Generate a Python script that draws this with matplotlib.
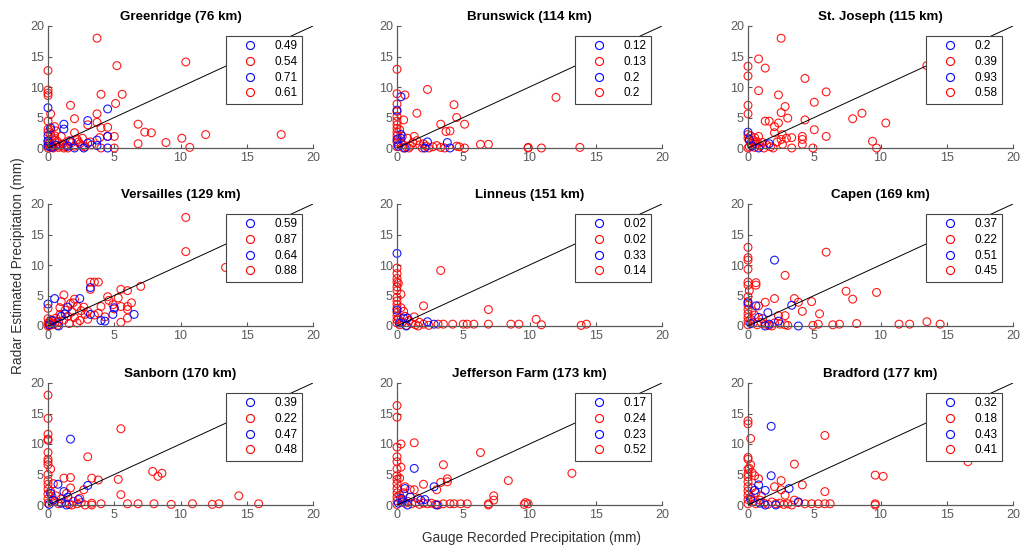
import matplotlib
matplotlib.use("Agg")
import matplotlib.pyplot as plt
from matplotlib.lines import Line2D

plt.rcParams['font.family'] = ['Liberation Sans', 'DejaVu Sans']

# =====================
# Data (gauge mm, radar mm)
# =====================
stations = ["Greenridge (76 km)", "Brunswick (114 km)", "St. Joseph (115 km)",
            "Versailles (129 km)", "Linneus (151 km)", "Capen (169 km)",
            "Sanborn (170 km)", "Jefferson Farm (173 km)", "Bradford (177 km)"]

corr_labels = [
    ["0.49", "0.54", "0.71", "0.61"],
    ["0.12", "0.13", "0.2", "0.2"],
    ["0.2", "0.39", "0.93", "0.58"],
    ["0.59", "0.87", "0.64", "0.88"],
    ["0.02", "0.02", "0.33", "0.14"],
    ["0.37", "0.22", "0.51", "0.45"],
    ["0.39", "0.22", "0.47", "0.48"],
    ["0.17", "0.24", "0.23", "0.52"],
    ["0.32", "0.18", "0.43", "0.41"],
]

greenridge_red = [(3.7,18.0),(10.4,14.1),(5.2,13.5),(0.0,12.7),(0.0,9.5),(0.0,9.0),(0.0,8.6),(4.0,8.8),(5.6,8.8),(5.1,7.3),(1.7,7.0),(3.7,5.6),(0.2,5.6),(2.0,4.8),(0.0,4.4),(3.7,4.2),(3.0,3.8),(4.0,3.3),(4.5,3.4),(6.8,3.9),(7.3,2.6),(7.8,2.5),(11.9,2.2),(17.6,2.2),(10.1,1.6),(8.9,0.9),(6.8,0.7),(10.7,0.1),(5.0,1.9),(4.5,1.9),(3.9,1.7),(5.0,0.0),(4.0,0.0),(2.6,0.3),(2.0,0.3),(2.6,1.6),(2.0,2.5),(1.0,1.9),(0.5,3.5),(0.2,3.0),(0.5,2.0),(0.0,0.0),(0.1,0.3),(0.2,0.1),(0.3,0.5),(0.4,0.2),(0.6,0.4),(0.8,0.1),(1.1,0.6),(1.3,0.2),(1.5,0.0),(0.0,1.2),(0.1,0.8),(0.3,1.5),(0.7,1.1),(0.9,0.3),(1.2,0.0),(1.8,0.9),(2.3,1.0),(2.8,0.2),(0.0,2.6),(0.2,2.2),(0.5,1.3),(0.0,0.6),(0.1,0.9),(0.4,0.0),(1.4,0.5),(3.2,1.0),(2.4,0.7),(0.6,2.8),(0.0,3.1),(3.3,0.5),(2.2,1.4),(1.6,1.2)]
greenridge_blue = [(0.0,6.6),(4.5,6.4),(3.0,4.5),(1.2,3.9),(1.2,3.1),(0.2,3.3),(0.0,2.0),(4.5,1.9),(3.7,1.3),(3.7,0.4),(1.7,1.1),(4.5,0.0),(3.0,0.8),(2.7,0.0),(2.0,0.0),(1.5,0.3),(0.0,1.1),(0.0,0.3),(0.3,0.1),(0.6,0.5)]

brunswick_red = [(0.0,12.9),(2.3,9.6),(0.0,8.9),(0.6,8.7),(12.0,8.3),(4.3,7.1),(1.5,5.7),(4.5,5.0),(0.5,4.6),(5.1,3.9),(3.3,3.9),(3.7,2.7),(4.0,2.8),(0.0,7.2),(0.0,6.0),(0.0,5.2),(0.0,4.4),(0.0,3.8),(0.0,3.2),(0.0,2.6),(0.0,2.0),(0.1,1.5),(0.0,1.0),(0.1,0.6),(0.0,0.2),(1.5,1.2),(1.3,1.9),(0.8,1.6),(6.3,0.6),(6.9,0.6),(4.5,0.3),(5.1,0.0),(9.9,0.1),(9.9,0.0),(10.9,0.0),(13.8,0.1),(3.0,0.4),(2.7,0.2),(2.4,0.0),(3.3,0.1),(4.7,0.2),(1.7,0.5),(1.0,0.3),(0.5,0.0),(0.3,0.8),(0.7,0.2),(1.2,0.9),(2.0,0.7),(0.4,1.9),(0.2,3.0),(1.9,0.0),(3.6,0.0),(0.9,0.0),(2.2,0.3)]
brunswick_blue = [(0.3,8.4),(0.0,6.2),(0.3,2.2),(0.3,1.6),(2.3,1.0),(3.8,0.9),(2.1,0.0),(4.0,0.0),(0.0,1.4),(0.1,0.3),(0.6,0.0)]

stjoseph_red = [(2.5,18.0),(0.0,13.4),(0.8,14.6),(1.3,13.1),(0.0,11.8),(4.3,11.4),(13.5,13.5),(0.8,9.4),(5.9,9.2),(2.3,8.7),(0.0,7.0),(2.8,6.8),(5.0,7.5),(2.5,5.8),(0.0,5.6),(8.6,5.7),(7.9,4.8),(3.0,4.9),(4.3,4.6),(1.3,4.4),(1.6,4.4),(2.3,4.1),(10.4,4.1),(2.0,3.5),(5.0,3.0),(5.9,1.9),(4.1,1.9),(4.1,1.4),(3.3,1.7),(9.4,1.1),(9.7,0.0),(4.9,0.0),(3.3,0.0),(2.0,2.5),(2.6,2.2),(0.8,1.9),(2.5,1.4),(2.9,1.6),(2.2,1.0),(4.1,0.6),(2.6,0.6),(1.9,0.0),(1.2,0.0),(0.0,2.2),(0.0,1.6),(0.1,1.2),(0.2,0.8),(0.3,0.4),(0.0,0.0),(0.5,0.1),(0.6,0.6),(0.9,0.3),(1.1,0.9),(1.4,0.5),(0.4,1.3),(0.1,0.2),(0.7,1.0),(1.7,0.2),(0.2,2.0),(0.5,1.7)]
stjoseph_blue = [(0.0,2.6),(1.6,0.7),(0.8,0.0),(0.1,1.4),(0.3,0.3)]

versailles_red = [(10.4,17.8),(10.4,12.2),(13.4,9.6),(7.0,6.5),(3.2,7.2),(3.5,7.2),(3.8,7.2),(5.5,6.0),(6.0,5.8),(5.3,4.6),(4.5,4.8),(6.3,3.8),(5.5,3.2),(6.0,3.2),(4.0,3.2),(5.0,2.8),(6.0,2.7),(6.0,1.3),(5.5,0.6),(1.2,5.1),(1.0,4.0),(1.7,3.7),(2.0,4.4),(2.2,3.2),(2.7,3.1),(3.0,2.4),(3.0,1.1),(2.2,0.5),(0.0,2.9),(3.5,1.8),(4.6,4.2),(4.9,3.5),(3.2,6.0),(2.5,2.5),(1.8,2.3),(1.5,1.6),(1.2,1.0),(0.8,0.7),(0.5,0.4),(0.3,0.2),(0.0,0.0),(0.1,0.6),(0.0,1.2),(0.2,1.0),(0.4,0.9),(0.6,1.3),(0.9,1.9),(1.3,2.6),(2.0,1.4),(2.4,0.9),(1.6,0.4),(0.7,0.1),(0.2,0.3),(0.0,0.5),(0.1,0.1),(3.8,2.1),(4.3,1.5),(2.8,1.9),(1.9,3.8),(0.9,3.0)]
versailles_blue = [(3.2,6.3),(0.5,4.5),(0.0,3.6),(2.4,4.5),(1.5,3.1),(5.0,3.0),(6.5,1.9),(4.9,1.9),(3.2,1.9),(4.0,0.9),(4.3,0.8),(1.0,1.6),(0.8,0.0),(0.3,0.9),(1.3,2.0),(0.1,0.2)]

linneus_red = [(3.3,9.1),(0.0,9.5),(0.0,8.6),(0.0,7.8),(0.0,7.2),(0.0,6.4),(0.0,5.8),(0.3,5.2),(0.0,4.7),(0.0,4.1),(0.0,3.5),(0.0,2.9),(0.0,2.2),(0.0,1.6),(0.0,1.0),(0.0,0.5),(0.5,2.4),(2.0,3.3),(6.9,2.7),(10.5,1.1),(6.9,0.3),(8.6,0.3),(9.2,0.3),(10.9,0.2),(13.9,0.1),(14.3,0.3),(5.0,0.3),(5.3,0.3),(5.8,0.3),(4.2,0.3),(3.5,0.3),(3.1,0.3),(2.0,0.3),(1.7,0.6),(1.4,0.2),(1.1,0.4),(0.9,0.9),(1.3,1.5),(0.7,0.1),(0.4,0.6),(0.2,0.2),(0.1,1.2),(1.6,0.0),(2.4,0.1),(0.6,1.6),(0.3,3.0),(0.1,7.0)]
linneus_blue = [(0.0,11.9),(2.3,0.7),(2.8,0.3),(0.8,1.3),(0.5,1.3),(0.0,2.6),(0.7,0.0),(0.2,0.5)]

capen_red = [(0.0,12.9),(0.0,11.2),(0.0,10.8),(5.9,12.1),(0.0,9.3),(2.8,8.3),(0.0,7.2),(0.0,6.7),(0.6,7.1),(0.6,6.7),(7.4,5.7),(9.7,5.5),(7.9,4.4),(2.0,4.5),(3.5,4.5),(4.8,4.0),(1.3,3.9),(3.8,3.9),(4.1,2.4),(5.4,2.0),(0.8,3.3),(2.3,1.7),(2.8,1.7),(13.5,0.7),(11.4,0.3),(12.2,0.3),(14.5,0.3),(8.2,0.4),(6.9,0.3),(6.4,0.2),(5.3,0.3),(4.9,0.1),(2.8,0.2),(3.0,0.1),(0.0,4.8),(0.0,4.0),(0.0,3.4),(0.0,2.7),(0.0,2.0),(0.0,1.4),(0.0,0.8),(0.0,0.2),(0.2,1.1),(0.4,0.5),(0.7,0.2),(1.0,0.6),(1.3,0.3),(1.6,0.1),(2.0,0.5),(2.4,0.3),(1.8,0.0),(0.5,1.8),(0.3,2.5),(1.1,1.2),(0.1,5.8)]
capen_blue = [(2.0,10.8),(3.3,3.4),(1.5,2.2),(0.6,3.3),(0.8,1.4),(3.8,0.0),(1.3,0.0),(1.6,0.3),(0.0,3.8),(2.3,0.8),(0.2,0.4)]

sanborn_red = [(0.0,18.0),(0.0,14.2),(0.0,11.6),(0.0,10.8),(0.0,10.6),(0.0,8.6),(0.0,7.5),(0.0,7.1),(0.0,6.6),(0.2,5.9),(5.5,12.5),(3.0,7.9),(7.9,5.5),(8.6,5.2),(8.3,4.7),(5.3,4.2),(3.3,4.4),(3.8,4.1),(1.2,4.4),(1.7,4.5),(1.7,2.8),(2.7,2.5),(5.5,1.7),(14.4,1.5),(6.0,0.2),(6.8,0.2),(8.0,0.2),(9.3,0.1),(10.9,0.2),(12.4,0.1),(12.9,0.2),(15.9,0.2),(4.0,0.2),(3.3,0.3),(0.0,5.0),(0.0,4.0),(0.0,3.4),(0.0,2.6),(0.0,1.8),(0.0,1.0),(0.0,0.3),(0.3,1.4),(0.5,0.6),(0.8,0.2),(1.0,1.0),(1.3,0.4),(1.6,0.1),(1.9,0.6),(2.2,0.2),(2.5,0.4),(2.8,0.0),(0.2,2.2),(0.4,3.5),(1.4,1.9),(2.4,1.1),(3.3,0.0),(0.6,1.5),(1.8,0.0)]
sanborn_blue = [(1.7,10.8),(3.0,3.2),(0.75,3.4),(0.2,1.9),(1.2,2.2),(1.5,1.3),(2.3,0.9),(1.0,0.3),(0.4,0.8),(1.4,0.0),(0.1,0.1)]

jefferson_red = [(0.0,16.3),(0.0,14.4),(1.3,10.2),(0.3,10.0),(0.0,9.5),(0.0,7.9),(0.0,7.1),(6.3,8.6),(0.3,6.2),(0.0,5.9),(0.0,4.8),(0.0,4.2),(3.5,6.6),(13.2,5.2),(8.4,4.0),(3.8,4.3),(3.8,3.8),(3.3,3.7),(2.0,3.4),(3.0,2.5),(0.6,3.0),(1.0,2.5),(1.3,2.5),(7.3,1.5),(7.3,0.8),(6.9,0.2),(9.7,0.4),(9.9,0.2),(9.6,0.1),(4.8,0.2),(5.3,0.2),(4.3,0.2),(4.0,0.2),(3.5,0.2),(0.0,3.5),(0.0,2.7),(0.0,2.0),(0.0,1.3),(0.0,0.7),(0.0,0.1),(0.2,1.6),(0.4,0.9),(0.6,0.3),(0.8,0.6),(1.1,0.2),(1.4,0.4),(1.7,0.1),(2.0,0.3),(2.3,0.2),(2.6,0.3),(2.9,0.1),(0.2,4.4),(0.5,2.0),(1.6,1.1),(3.1,0.0),(6.9,0.0)]
jefferson_blue = [(1.3,6.0),(2.8,3.0),(0.6,2.7),(1.0,1.3),(1.8,0.8),(2.1,0.9),(3.0,0.0),(0.3,1.1),(0.1,0.3),(0.8,0.0),(0.4,0.5)]

bradford_red = [(0.0,13.8),(0.0,13.3),(0.2,10.9),(5.8,11.4),(0.0,7.8),(0.0,7.5),(0.2,6.6),(16.6,7.1),(3.5,6.7),(0.0,5.9),(0.0,5.1),(0.0,4.6),(0.5,4.8),(0.8,4.3),(9.6,4.9),(10.2,4.7),(2.5,4.0),(4.1,3.3),(2.0,3.0),(2.5,2.5),(2.8,1.6),(5.8,2.2),(3.5,0.8),(3.8,0.4),(9.6,0.2),(9.6,0.0),(4.3,0.2),(4.8,0.2),(5.3,0.2),(5.8,0.2),(6.2,0.2),(0.0,3.8),(0.0,3.0),(0.0,2.3),(0.0,1.6),(0.0,0.9),(0.0,0.2),(0.2,1.3),(0.4,0.6),(0.6,0.2),(0.9,0.8),(1.2,0.3),(1.5,0.1),(1.8,0.5),(2.1,0.2),(2.4,0.3),(2.7,0.1),(3.0,0.2),(0.3,2.8),(0.6,2.0),(1.0,1.5),(3.3,0.0),(0.1,6.0),(0.3,5.3)]
bradford_blue = [(1.75,12.9),(1.75,4.8),(3.1,2.7),(1.3,2.4),(0.8,3.3),(0.5,2.4),(3.8,0.5),(1.3,0.0),(2.1,0.0),(0.2,0.9),(0.9,0.3)]

red_sets = [greenridge_red, brunswick_red, stjoseph_red, versailles_red, linneus_red,
            capen_red, sanborn_red, jefferson_red, bradford_red]
blue_sets = [greenridge_blue, brunswick_blue, stjoseph_blue, versailles_blue, linneus_blue,
             capen_blue, sanborn_blue, jefferson_blue, bradford_blue]

ticks = [0, 5, 10, 15, 20]
legend_colors = ["blue", "red", "blue", "red"]

# =====================
# Layout (figure fractions)
# =====================
W, H = 1027, 552
col_left = [48, 397, 748]
row_top = [26, 204, 383]
ax_w, ax_h = 265, 122

axis_gray = "#5a5a5a"

fig = plt.figure(figsize=(W / 100, H / 100), dpi=100)

for k, name in enumerate(stations):
    r, c = divmod(k, 3)
    ax = fig.add_axes([col_left[c] / W, 1 - (row_top[r] + ax_h) / H, ax_w / W, ax_h / H])

    rx = [p[0] for p in red_sets[k]]
    ry = [p[1] for p in red_sets[k]]
    bx = [p[0] for p in blue_sets[k]]
    by = [p[1] for p in blue_sets[k]]

    ax.scatter(rx, ry, s=32, facecolors="none", edgecolors="red",
               linewidths=0.8, clip_on=False, zorder=2, alpha=0.9)
    ax.scatter(bx, by, s=32, facecolors="none", edgecolors="blue",
               linewidths=0.8, clip_on=False, zorder=2, alpha=0.9)
    ax.plot([0, 20], [0, 20], color="black", linewidth=0.7, zorder=3)

    ax.set_xlim(0, 20)
    ax.set_ylim(0, 20)
    ax.set_xticks(ticks)
    ax.set_yticks(ticks)
    for s in ["top", "right"]:
        ax.spines[s].set_visible(False)
    for s in ["left", "bottom"]:
        ax.spines[s].set_color(axis_gray)
        ax.spines[s].set_linewidth(0.9)
    ax.tick_params(direction="in", length=3, width=0.8, colors=axis_gray,
                   labelsize=9, pad=3)
    ax.set_title(name, fontsize=9.6, fontweight="bold", pad=4)

    handles = [
        Line2D([0], [0], marker="o", linestyle="none", markerfacecolor="none",
               markeredgecolor=col, markersize=5.8, markeredgewidth=0.8)
        for col in legend_colors
    ]
    leg = ax.legend(handles, corr_labels[k], loc="upper right",
                    bbox_to_anchor=(0.958, 0.918), borderaxespad=0,
                    fontsize=8.5, frameon=True, fancybox=False, framealpha=1,
                    edgecolor="#444444", borderpad=0.35, handlelength=3.4,
                    handletextpad=0.4, labelspacing=0.32)
    leg.get_frame().set_linewidth(0.8)
    leg.set_zorder(5)

fig.text(0.018, 1 - 266 / H, "Radar Estimated Precipitation (mm)", rotation=90,
         ha="center", va="center", fontsize=9.8, color="#333333")
fig.text(532 / W, 1 - 538 / H, "Gauge Recorded Precipitation (mm)",
         ha="center", va="center", fontsize=9.8, color="#333333")

fig.savefig("out.png", dpi=100)
